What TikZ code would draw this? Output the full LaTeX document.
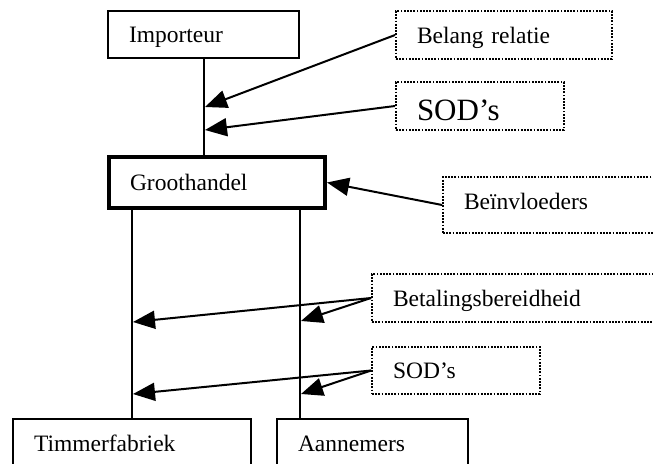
\documentclass[tikz,border=0pt]{standalone}
\usepackage{fontspec}
\setmainfont{Liberation Serif}
\usetikzlibrary{arrows.meta}

\tikzset{
  lbl/.style={inner xsep=21pt, inner ysep=0pt, align=left,
    font=\fontsize{23.5}{28}\selectfont, text height=16pt, text depth=0pt},
  solidbox/.style={lbl, draw, line width=2pt},
  mainbox/.style={lbl, draw, line width=4pt},
  notebox/.style={lbl, draw, line width=1.8pt, dash pattern=on 1.8pt off 1.4pt},
  link/.style={line width=2pt},
  pointer/.style={line width=2pt, -{Triangle[length=22pt,width=18pt]}}
}

\begin{document}
\begin{tikzpicture}[x=1pt,y=-1pt]
  \useasboundingbox (0,0) rectangle (653,463);
  \fill[white] (0,0) rectangle (653,463);
  \clip (0,0) rectangle (653,463);

  % chain of actors
  \node[solidbox, text width=149pt, minimum height=47pt] (imp) at (203.5,34.5) {Importeur};
  \node[mainbox, text width=174pt, minimum height=51pt] (gh) at (217,182.5) {Groothandel};
  \node[solidbox, text width=196pt, minimum height=48pt] (tim) at (132,443) {Timmerfabriek};
  \node[solidbox, text width=149pt, minimum height=48pt] (aan) at (372.5,443) {Aannemers};

  % influencing factors
  \node[notebox, text width=174pt, minimum height=48pt] (bel) at (504,35) {Belang relatie};
  \node[notebox, text width=126pt, minimum height=48pt,
        font=\fontsize{31}{36}\selectfont, text height=28pt] (sodA) at (480,106) {SOD’s};
  \node[notebox, text width=215pt, minimum height=56pt, text depth=7pt] (bein) at (571.5,205) {Beïnvloeders};
  \node[notebox, text width=286pt, minimum height=48pt] (bet) at (536,298) {Betalingsbereidheid};
  \node[notebox, text width=126pt, minimum height=47pt] (sodB) at (456,370.5) {SOD’s};

  % connecting lines
  \draw[link] (imp.south) -- (imp.south |- gh.north);
  \draw[link] (tim.north) -- (tim.north |- gh.south);
  \coordinate (aanTop) at (300,419);
  \draw[link] (aanTop) -- (aanTop |- gh.south);

  % arrow targets on the lines
  \coordinate (impA) at (205,107);
  \coordinate (impB) at (205,130);
  \coordinate (timA) at (133,322);
  \coordinate (aanA) at (301,321);
  \coordinate (timB) at (133,394);
  \coordinate (aanB) at (301,394);

  % arrows
  \draw[pointer] (bel.west) -- (impA);
  \draw[pointer] (sodA.west) -- (impB);
  \draw[pointer] (bein.west) -- (gh.east);
  \draw[pointer] (bet.west) -- (timA);
  \draw[pointer] (bet.west) -- (aanA);
  \draw[pointer] (sodB.west) -- (timB);
  \draw[pointer] (sodB.west) -- (aanB);
\end{tikzpicture}
\end{document}
